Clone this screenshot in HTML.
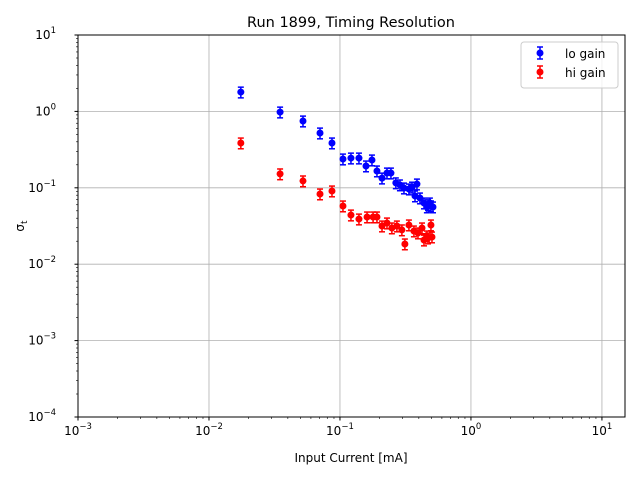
<!DOCTYPE html>
<html><head><meta charset="utf-8"><style>
body{margin:0;background:#fff}
text{font-family:"DejaVu Sans","Liberation Sans",sans-serif;fill:#000}
</style></head><body>
<svg id="chart" width="640" height="480" xmlns="http://www.w3.org/2000/svg">
<rect width="640" height="480" fill="#fff"/>
<text x="351" y="27" font-size="14.5" text-anchor="middle">Run 1899, Timing Resolution</text>
<g id="grid"></g>
<g id="marks"></g>
<rect x="78" y="35" width="547" height="382" fill="none" stroke="#000" stroke-width="1"/>
<g id="ticks"></g>
<text x="351" y="462" font-size="12" text-anchor="middle">Input Current [mA]</text>
<text transform="translate(24,226) rotate(-90)" font-size="12" text-anchor="middle">σ<tspan font-size="9" dy="3">t</tspan></text>
<g>
<rect x="521" y="42" width="97" height="46" rx="3" fill="#fff" fill-opacity="0.8" stroke="#ccc"/>
<g>
<line x1="540" y1="47" x2="540" y2="59" stroke="blue" stroke-width="1.5"/><line x1="537" y1="47" x2="543" y2="47" stroke="blue" stroke-width="1.5"/><line x1="537" y1="59" x2="543" y2="59" stroke="blue" stroke-width="1.5"/><circle cx="540" cy="53" r="3.5" fill="blue"/>
<text x="565" y="58" font-size="12">lo gain</text></g>
<g>
<line x1="540" y1="66" x2="540" y2="78" stroke="red" stroke-width="1.5"/><line x1="537" y1="66" x2="543" y2="66" stroke="red" stroke-width="1.5"/><line x1="537" y1="78" x2="543" y2="78" stroke="red" stroke-width="1.5"/><circle cx="540" cy="72" r="3.5" fill="red"/>
<text x="565" y="77" font-size="12">hi gain</text></g>
</g>
</svg>
<script>
const loX=[0.0175,0.0349,0.0522,0.0704,0.0869,0.1054,0.1213,0.1396,0.158,0.1755,0.1916,0.2094,0.2285,0.245,0.267,0.287,0.308,0.336,0.355,0.387,0.374,0.408,0.438,0.461,0.486,0.513,0.470,0.495];
const loY=[1.79,0.98,0.748,0.521,0.386,0.238,0.245,0.245,0.193,0.231,0.166,0.134,0.156,0.156,0.116,0.109,0.0993,0.0964,0.102,0.112,0.0782,0.0735,0.0632,0.0561,0.0632,0.0561,0.0600,0.0580];
const hiX=[0.0175,0.0349,0.0522,0.0704,0.0869,0.1054,0.1213,0.1396,0.161,0.179,0.1916,0.2094,0.2285,0.249,0.272,0.297,0.313,0.336,0.367,0.394,0.423,0.438,0.461,0.495,0.504,0.470];
const hiY=[0.386,0.152,0.123,0.083,0.0908,0.0578,0.044,0.039,0.0415,0.0415,0.0415,0.0316,0.0346,0.0298,0.0316,0.0281,0.0184,0.0326,0.0272,0.0256,0.0298,0.0207,0.0234,0.0326,0.0227,0.0220];
const relErr=0.16;
const xTicks=[-3,-2,-1,0,1];
const yTicks=[-4,-3,-2,-1,0,1];
const NS="http://www.w3.org/2000/svg";
const X0=78,X1=625,Y0=417,Y1=35,xmin=-3,xmax=Math.log10(15),ymin=-4,ymax=1;
function sx(v){return X0+(Math.log10(v)-xmin)/(xmax-xmin)*(X1-X0);}
function sy(v){return Y0-(Math.log10(v)-ymin)/(ymax-ymin)*(Y0-Y1);}
function mk(tag,attrs,parent){const e=document.createElementNS(NS,tag);for(const k in attrs)e.setAttribute(k,attrs[k]);parent.appendChild(e);return e;}
const grid=document.getElementById('grid'),ticks=document.getElementById('ticks'),marks=document.getElementById('marks');
xTicks.forEach(t=>{const x=sx(Math.pow(10,t));
 const g=mk('line',{x1:x,x2:x,y1:Y1,y2:Y0,stroke:'#b0b0b0','stroke-width':0.8},grid);
 
 mk('line',{x1:x,x2:x,y1:Y0,y2:Y0+3.5,stroke:'#000'},ticks);
 for(let k=2;k<10;k++){const xm=sx(k*Math.pow(10,t));if(xm<=X1)mk('line',{x1:xm,x2:xm,y1:Y0,y2:Y0+2,stroke:'#000','stroke-width':0.6},ticks);}
 const tx=mk('text',{x:x,y:Y0+18,'font-size':'12','text-anchor':'middle'},ticks);
 
 tx.innerHTML='10<tspan font-size="8.5" dy="-6">'+(t<0?'−'+(-t):t)+'</tspan>';});
yTicks.forEach(t=>{const y=sy(Math.pow(10,t));
 const g=mk('line',{x1:X0,x2:X1,y1:y,y2:y,stroke:'#b0b0b0','stroke-width':0.8},grid);
 
 mk('line',{x1:X0-3.5,x2:X0,y1:y,y2:y,stroke:'#000'},ticks);
 if(t<1)for(let k=2;k<10;k++){const ym=sy(k*Math.pow(10,t));mk('line',{x1:X0-2,x2:X0,y1:ym,y2:ym,stroke:'#000','stroke-width':0.6},ticks);}
 const tx=mk('text',{x:X0-22,y:y+4,'font-size':'12','text-anchor':'end'},ticks);
 
 tx.innerHTML='10<tspan font-size="8.5" dy="-6">'+(t<0?'−'+(-t):t)+'</tspan>';});
function series(xs,ys,color,name){xs.forEach((xv,i)=>{const x=sx(xv),y=ys[i];
 const g=mk('g',{},marks);
 
 
 const ya=sy(y*(1+relErr)),yb=sy(y*(1-relErr));
 mk('line',{x1:x,x2:x,y1:ya,y2:yb,stroke:color,'stroke-width':1.5},g);
 mk('line',{x1:x-3,x2:x+3,y1:ya,y2:ya,stroke:color,'stroke-width':1.5},g);
 mk('line',{x1:x-3,x2:x+3,y1:yb,y2:yb,stroke:color,'stroke-width':1.5},g);
 mk('circle',{cx:x,cy:sy(y),r:3.5,fill:color},g);});}
series(loX,loY,'blue','lo-gain');
series(hiX,hiY,'red','hi-gain');
</script>
</body></html>
